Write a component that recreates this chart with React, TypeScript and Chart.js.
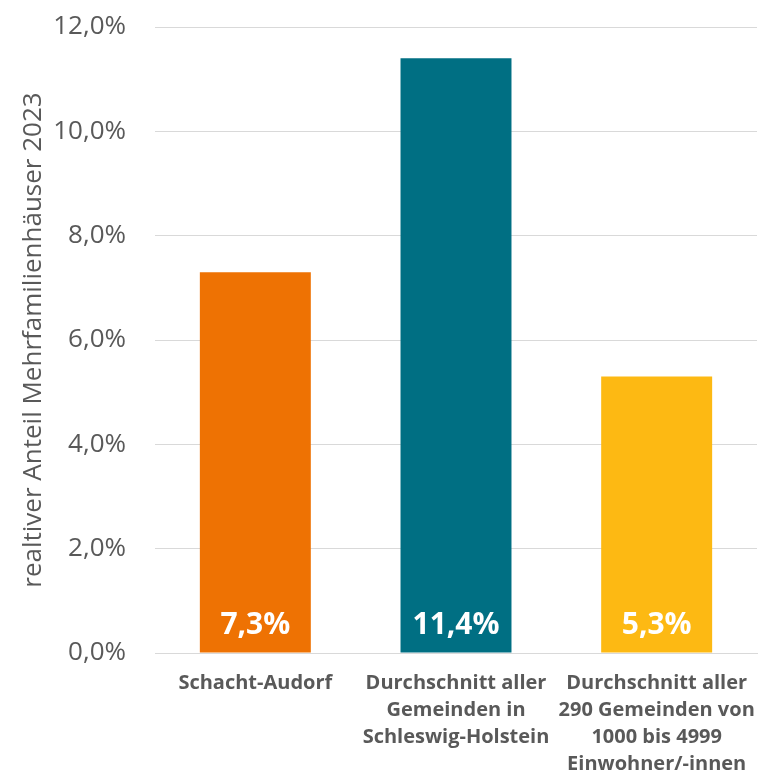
import React, { useEffect, useRef } from "react";
import { Chart, registerables } from "chart.js";

Chart.register(...registerables);

const categories: string[][] = [
  ["Schacht-Audorf"],
  ["Durchschnitt aller", "Gemeinden in", "Schleswig-Holstein"],
  ["Durchschnitt aller", "290 Gemeinden von", "1000 bis 4999", "Einwohner/-innen"],
];
const values: number[] = [7.3, 11.4, 5.3];
const barColors: string[] = ["#EE7203", "#006F83", "#FDB913"];
const valueLabels: string[] = ["7,3%", "11,4%", "5,3%"];
const yTitle = "realtiver Anteil Mehrfamilienhäuser 2023";
const yMin = 0;
const yMax = 12;
const yStep = 2;

const FONT = "'Open Sans', 'Noto Sans', sans-serif";

const barLabelPlugin = {
  id: "barLabels",
  afterDatasetsDraw(chart: any) {
    const ctx = chart.ctx;
    const meta = chart.getDatasetMeta(0);
    ctx.save();
    ctx.fillStyle = "#FFFFFF";
    ctx.font = `bold 30px ${FONT}`;
    ctx.textAlign = "center";
    ctx.textBaseline = "middle";
    meta.data.forEach((bar: any, i: number) => {
      ctx.fillText(valueLabels[i], bar.x, bar.base - 27);
    });
    ctx.restore();
  },
};

export default function App() {
  const ref = useRef<HTMLCanvasElement | null>(null);
  useEffect(() => {
    if (!ref.current) return;
    const chart = new Chart(ref.current, {
      type: "bar",
      data: {
        labels: categories,
        datasets: [
          {
            data: values,
            backgroundColor: barColors,
            borderWidth: 0,
            barPercentage: 0.553,
            categoryPercentage: 1,
          },
        ],
      },
      plugins: [barLabelPlugin],
      options: {
        responsive: false,
        animation: false,
        layout: { padding: { top: 27, right: 1, bottom: 0, left: 0 } },
        plugins: { legend: { display: false }, tooltip: { enabled: false } },
        scales: {
          x: {
            grid: { display: false, drawTicks: false },
            border: { display: true, color: "#D9D9D9", width: 1 },
            ticks: {
              color: "#595959",
              font: { family: FONT, size: 20, weight: "bold", lineHeight: 1.35 },
              padding: 17,
              maxRotation: 0,
              autoSkip: false,
            },
            afterFit: (scale: any) => {
              scale.height = 121;
              scale.paddingLeft = 0;
              scale.paddingRight = 0;
            },
          },
          y: {
            min: yMin,
            max: yMax,
            grid: { color: "#D9D9D9", drawTicks: false },
            border: { display: false },
            ticks: {
              stepSize: yStep,
              color: "#595959",
              font: { family: FONT, size: 26 },
              padding: 29,
              callback: (v: any) => Number(v).toFixed(1).replace(".", ",") + "%",
            },
            title: {
              display: true,
              text: yTitle,
              color: "#595959",
              font: { family: FONT, size: 26 },
              padding: { top: 18, bottom: 0 },
            },
            afterFit: (scale: any) => {
              scale.width = 155;
              scale.paddingTop = 0;
              scale.paddingBottom = 0;
            },
          },
        },
      },
    });
    return () => chart.destroy();
  }, []);
  return (
    <div style={{ position: "absolute", left: 0, top: 0, width: 758, height: 774, background: "#fff" }}>
      <canvas ref={ref} width={758} height={774} style={{ display: "block" }} />
    </div>
  );
}
